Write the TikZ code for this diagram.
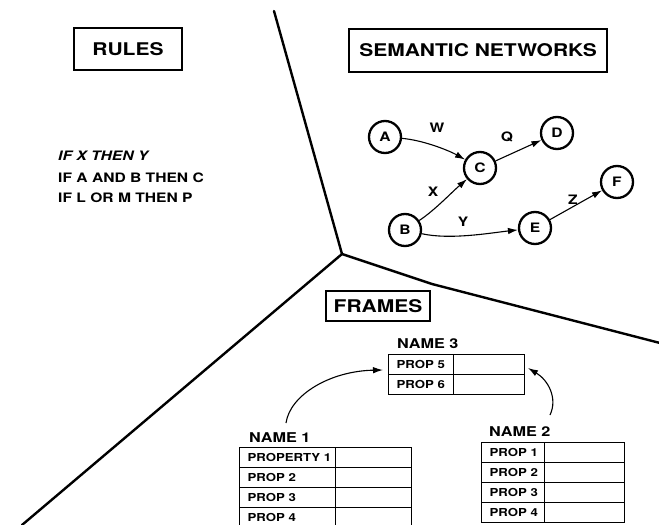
\documentclass[tikz,border=0pt]{standalone}
\usepackage{fontspec}
\newfontfamily\hv{TeX Gyre Heros}[FakeStretch=1.2]
\usetikzlibrary{arrows.meta}
\begin{document}
\begin{tikzpicture}[x=1pt,y=-1pt,
  title/.style={draw,line width=1.4pt,inner sep=0pt,font=\hv\bfseries\fontsize{17.5}{20}\selectfont},
  divline/.style={line width=2.4pt,line cap=round,line join=round},
  net/.style={circle,draw,line width=2.3pt,minimum size=32pt,inner sep=0pt,font=\hv\bfseries\fontsize{13}{15}\selectfont},
  elabel/.style={font=\hv\bfseries\fontsize{13}{15}\selectfont,inner sep=0pt},
  edge/.style={line width=1.1pt,-{Latex[length=10pt,width=6.5pt]}},
  rulet/.style={font=\hv\bfseries\fontsize{13}{15}\selectfont,inner sep=0pt,anchor=base west},
  namel/.style={font=\hv\bfseries\fontsize{13.5}{15}\selectfont,inner sep=0pt,anchor=base west},
  cell/.style={draw,line width=1.1pt,minimum height=20pt,inner sep=0pt,anchor=north west,font=\hv\bfseries\fontsize{11}{12}\selectfont},
  keyc/.style={cell,inner xsep=8pt,text width=#1,align=left},
  valc/.style={cell,minimum width=#1},
]
\useasboundingbox (0,0) rectangle (659,525);
% dividing lines
\coordinate (j) at (342,254);
\coordinate (ltop) at (274,11);
\coordinate (lleft) at (22,525);
\coordinate (lmid) at (432,284);
\coordinate (lright) at (660,343);
\draw[divline] (ltop) -- (j) -- (lleft);
\draw[divline] (j) -- (lmid) -- (lright);

% titles
\node[title,minimum width=108pt,minimum height=42pt] (rules) at (128,49) {RULES};
\node[title,minimum width=258pt,minimum height=43pt] (sem) at (478,50.5) {SEMANTIC NETWORKS};
\node[title,minimum width=104pt,minimum height=30pt] (frames) at (378,306) {FRAMES};

% rules
\node[rulet] (r1) at (58,160) {\itshape IF X THEN Y};
\node[rulet] (r2) at (58,182) {IF A AND B THEN C};
\node[rulet] (r3) at (58,202) {IF L OR M THEN P};

% semantic network
\node[net] (A) at (385,137) {A};
\node[net] (C) at (480,168) {C};
\node[net] (D) at (557,133) {D};
\node[net] (B) at (405,230) {B};
\node[net] (E) at (535,228) {E};
\node[net] (F) at (617,182) {F};
\draw[edge] (A) .. controls (422,140) and (448,150) .. (C);
\draw[edge] (C) -- (D);
\draw[edge] (B) .. controls (435,210) and (452,192) .. (C);
\draw[edge] (B) .. controls (450,240) and (490,233) .. (E);
\draw[edge] (E) -- (F);
\node[elabel] (lw) at (437,128) {W};
\node[elabel] (lq) at (507,137) {Q};
\node[elabel] (lx) at (433,192) {X};
\node[elabel] (ly) at (463,222) {Y};
\node[elabel] (lz) at (573,200) {Z};

% frame NAME 3
\node[namel] (n3) at (397,348) {NAME 3};
\node[keyc=49pt] (t3a) at (388,354) {\mbox{PROP 5}};
\node[valc=71pt] (t3av) at (453,354) {};
\node[keyc=49pt] (t3b) at (388,374) {\mbox{PROP 6}};
\node[valc=71pt] (t3bv) at (453,374) {};

% frame NAME 1
\node[namel] (n1) at (249,442) {NAME 1};
\node[keyc=80pt] (t1a) at (239,447) {\mbox{PROPERTY 1}};
\node[valc=76pt] (t1av) at (335,447) {};
\node[keyc=80pt] (t1b) at (239,467) {\mbox{PROP 2}};
\node[valc=76pt] (t1bv) at (335,467) {};
\node[keyc=80pt] (t1c) at (239,487) {\mbox{PROP 3}};
\node[valc=76pt] (t1cv) at (335,487) {};
\node[keyc=80pt] (t1d) at (239,507) {\mbox{PROP 4}};
\node[valc=76pt] (t1dv) at (335,507) {};

% frame NAME 2
\node[namel] (n2) at (489,436) {NAME 2};
\node[keyc=47pt] (t2a) at (481,442) {\mbox{PROP 1}};
\node[valc=80pt] (t2av) at (544,442) {};
\node[keyc=47pt] (t2b) at (481,462) {\mbox{PROP 2}};
\node[valc=80pt] (t2bv) at (544,462) {};
\node[keyc=47pt] (t2c) at (481,482) {\mbox{PROP 3}};
\node[valc=80pt] (t2cv) at (544,482) {};
\node[keyc=47pt] (t2d) at (481,502) {\mbox{PROP 4}};
\node[valc=80pt] (t2dv) at (544,502) {};

% frame arrows
\coordinate (s1) at (286,423);
\coordinate (e1) at (383,370);
\coordinate (s2) at (550,415);
\coordinate (e2) at (528,368);
\draw[edge] (s1) .. controls (290,395) and (330,371) .. (e1);
\draw[edge] (s2) .. controls (558,398) and (548,380) .. (e2);
\end{tikzpicture}
\end{document}
